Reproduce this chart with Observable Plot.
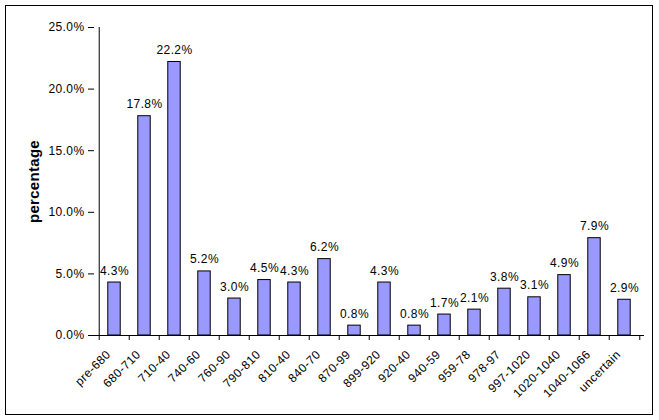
<!DOCTYPE html>
<html>
<head>
<meta charset="utf-8">
<script src="https://cdn.jsdelivr.net/npm/d3@7"></script>
<script src="https://cdn.jsdelivr.net/npm/@observablehq/plot@0.6"></script>
<style>
  html, body { margin: 0; padding: 0; background: #fff; }
  #wrap { position: relative; width: 659px; height: 420px; }
  #border { position: absolute; left: 5px; top: 5px; width: 646px; height: 408px; border: 1.5px solid #000; pointer-events: none; }
  svg { font-family: "Liberation Sans", Arial, sans-serif; letter-spacing: 0.4px; }
  [aria-label="y-axis label"] text { font-weight: bold; font-size: 15px; letter-spacing: 0.3px; }
</style>
</head>
<body>
<div id="wrap"><div id="border"></div></div>
<script>
const categories = ["pre-680","680-710","710-40","740-60","760-90","790-810","810-40","840-70","870-99","899-920","920-40","940-59","959-78","978-97","997-1020","1020-1040","1040-1066","uncertain"];
const values = [4.3, 17.8, 22.2, 5.2, 3.0, 4.5, 4.3, 6.2, 0.8, 4.3, 0.8, 1.7, 2.1, 3.8, 3.1, 4.9, 7.9, 2.9];
const yTicks = [0, 5, 10, 15, 20, 25];

const data = categories.map((c, i) => ({cat: c, v: values[i]}));
const W = 659, H = 420, mL = 94, mR = 15, mT = 27, mB = 85;
const bw = (W - mL - mR) / categories.length;
const fmt = d => d.toFixed(1) + "%";
const last = categories[categories.length - 1];

const chart = Plot.plot({
  width: W, height: H,
  marginLeft: mL, marginRight: mR, marginTop: mT, marginBottom: mB,
  style: {fontSize: "12px", fontFamily: "'Liberation Sans', Arial, sans-serif", color: "#000", background: "transparent"},
  x: {type: "band", domain: categories, padding: 0},
  y: {type: "linear", domain: [0, 25]},
  marks: [
    Plot.barY(data, {x: "cat", y: "v", fill: "#9999ff", stroke: "#000", strokeWidth: 1, insetLeft: (bw - 13) / 2, insetRight: (bw - 13) / 2}),
    Plot.text(data, {x: "cat", y: "v", text: d => fmt(d.v), dy: -8, lineAnchor: "bottom", fontSize: 12, fill: "#000"}),
    Plot.axisY({ticks: yTicks, tickFormat: fmt, tickSize: 6, tickPadding: 4, label: "percentage", labelAnchor: "center", labelArrow: "none", labelOffset: 66, stroke: "#000"}),
    Plot.ruleX([categories[0]], {x: d => d, dx: -bw / 2, y1: 0, y2: 25, stroke: "#000"}),
    Plot.ruleY([0], {stroke: "#000"}),
    Plot.axisX({tickSize: 0, tickRotate: -45, tickPadding: 17, dx: -6, label: null}),
    Plot.ruleX(categories, {x: d => d, dx: -bw / 2, y1: 0, y2: 0, stroke: "#000", insetBottom: -5}),
    Plot.ruleX([last], {x: d => d, dx: bw / 2, y1: 0, y2: 0, stroke: "#000", insetBottom: -5})
  ]
});
document.getElementById("wrap").prepend(chart);
</script>
</body>
</html>
